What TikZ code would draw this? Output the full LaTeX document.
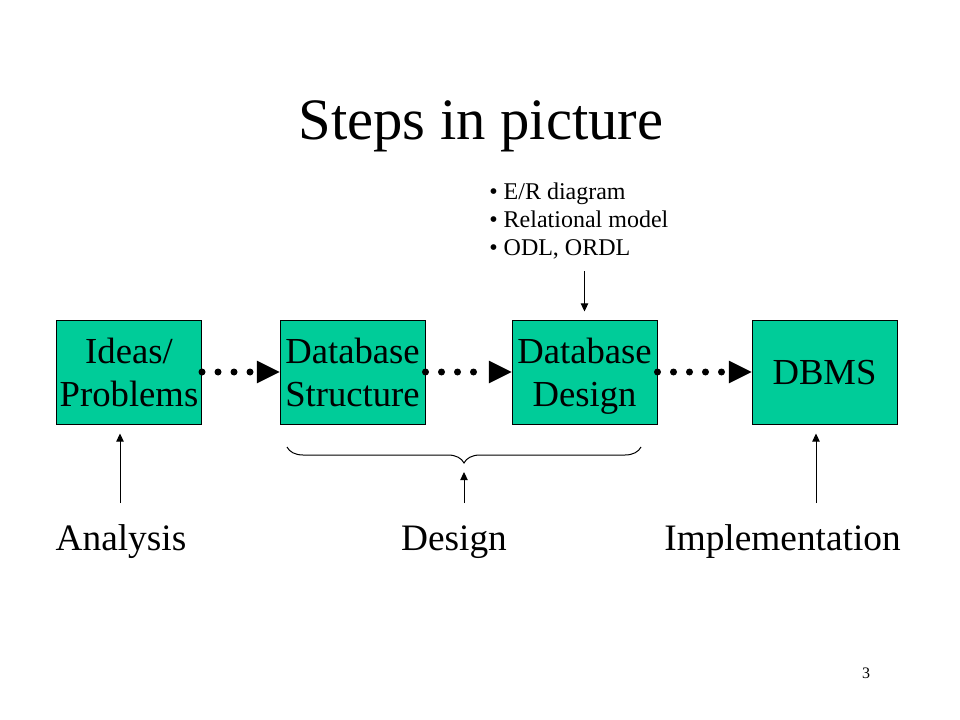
\documentclass[tikz,border=0pt]{standalone}
\usepackage{fontspec}
\setmainfont{Liberation Serif}
\usetikzlibrary{arrows.meta,decorations.pathreplacing}
\definecolor{boxgreen}{HTML}{00CC99}
\tikzset{
	stepbox/.style={draw=black, line width=0.75pt, fill=boxgreen, minimum width=108.75pt, minimum height=78pt, inner sep=0pt, align=center, text depth=0pt, font=\fontsize{27.5}{32}\selectfont},
	dotarrow/.style={line width=5.25pt, line cap=round, dash pattern=on 0pt off 12pt, -{Triangle[length=17pt,width=17pt,line width=0pt 0 0]}},
	thinarrow/.style={line width=0.75pt, -{Triangle[length=6pt,width=5.5pt]}},
	phaselabel/.style={anchor=base, inner sep=0pt, font=\fontsize{28}{32}\selectfont}
}

\begin{document}
\begin{tikzpicture}[x=0.75pt, y=-0.75pt]

	\useasboundingbox (0,0) rectangle (960,720);

	\node[anchor=base, inner sep=0pt, font=\fontsize{44}{50}\selectfont] (title) at (481,140) {Steps in picture};

	\node[stepbox] (ideas) at (129,372) {Ideas/\\Problems};
	\node[stepbox] (struct) at (352.5,372) {Database\\Structure};
	\node[stepbox] (design) at (584.5,372) {Database\\Design};
	\node[stepbox] (dbms) at (824.5,372) {DBMS};

	\draw[dotarrow] (ideas) -- (struct);
	\draw[dotarrow] (struct) -- (design);
	\draw[dotarrow] (design) -- (dbms);

	\node[anchor=base west, align=left, inner sep=0pt, font=\fontsize{18}{21}\selectfont] (models) at (489,256) {\textbullet\ E/R diagram\\\textbullet\ Relational model\\\textbullet\ ODL, ORDL};
	\draw[thinarrow, shorten >=6pt] ([yshift=36pt]design.north) -- (design.north);

	\node[phaselabel] (analysis) at (121,550) {Analysis};
	\node[phaselabel] (designlbl) at (454,550) {Design};
	\node[phaselabel] (impl) at (782.5,550) {Implementation};

	\coordinate (anfoot) at (120,503);
	\coordinate (defoot) at (464,503);
	\coordinate (imfoot) at (816,503);
	\coordinate (braceL) at (287,447);
	\coordinate (braceR) at (641,447);
	\coordinate (bracetip) at (464,463);

	\draw[line width=0.75pt, decorate, decoration={brace, mirror, amplitude=12pt}] (braceL) -- (braceR);

	\draw[thinarrow, shorten >=6.75pt] (anfoot) -- (anfoot |- ideas.south);
	\draw[thinarrow, shorten >=6.75pt] (defoot) -- (bracetip);
	\draw[thinarrow, shorten >=6.75pt] (imfoot) -- (imfoot |- dbms.south);

	\node[anchor=base, inner sep=0pt, font=\fontsize{12}{14}\selectfont] (pagenum) at (866,678) {3};

\end{tikzpicture}
\end{document}
